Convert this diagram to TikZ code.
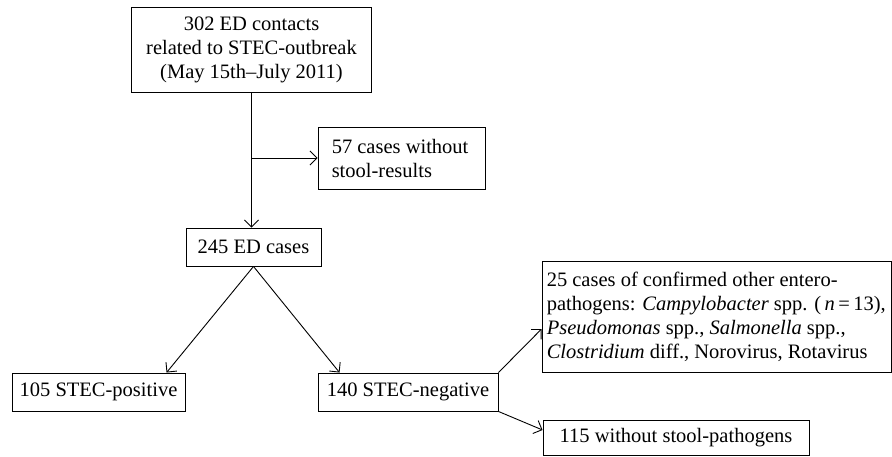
\documentclass[tikz,border=0pt]{standalone}
\usepackage{fontspec}
\setmainfont{Liberation Serif}
\usetikzlibrary{arrows.meta,calc}
\begin{document}
\begin{tikzpicture}[x=1pt,y=-1pt,
  box/.style={draw,line width=0.9pt,inner sep=0pt,font=\fontsize{20.5}{24}\selectfont},
  txt/.style={inner sep=0pt,anchor=west,align=left,font=\fontsize{20.5}{24}\selectfont},
  conn/.style={line width=0.9pt,-{Straight Barb[length=7pt,width=14pt,line width=0.9pt]}}]
\useasboundingbox (0,0) rectangle (892,456);
\node[box,minimum width=240,minimum height=85,align=center] (b1) at (251.5,49.5)
  {302 ED contacts\\related to STEC-outbreak\\(May 15th–July 2011)};
\node[box,minimum width=167,minimum height=62] (b57) at (401.5,158) {};
\node[txt] (b57t) at ($(b57.west)+(14,0)$) {57 cases without\\stool-results};
\node[box,minimum width=135,minimum height=38,align=center] (b245) at (253.5,247) {245 ED cases};
\node[box,minimum width=173,minimum height=38,align=center] (b105) at (98.5,392) {105 STEC-positive};
\node[box,minimum width=180,minimum height=38,align=center] (b140) at (408,392) {140 STEC-negative};
\node[box,minimum width=349,minimum height=111] (b25) at (716.5,316.5) {};
\node[txt] (b25t) at ($(b25.west)+(5,0)$)
  {25 cases of confirmed other entero-\\pathogens: \textit{Campylobacter} spp. (\,\textit{n}\,=\,13),\\\textit{Pseudomonas} spp., \textit{Salmonella} spp.,\\\textit{Clostridium} diff., Norovirus, Rotavirus};
\node[box,minimum width=266,minimum height=35,align=center] (b115) at (676,437.5) {115 without stool-pathogens};
\coordinate (split) at (b1.south |- b57.west);
\coordinate (t105) at ($(b105.north west)+(155,0)$);
\coordinate (t140) at ($(b140.north west)+(22,0)$);
\coordinate (t25) at ($(b25.west)+(0,12.5)$);
\coordinate (t115) at ($(b115.west)+(0,-7.5)$);
\draw[conn] (b1.south) -- (b245.north -| b1.south);
\draw[conn] (split) -- (b57.west);
\draw[conn] (b245.south) -- (t105);
\draw[conn] (b245.south) -- (t140);
\draw[conn] (b140.north east) -- (t25);
\draw[conn] (b140.south east) -- (t115);
\end{tikzpicture}
\end{document}
